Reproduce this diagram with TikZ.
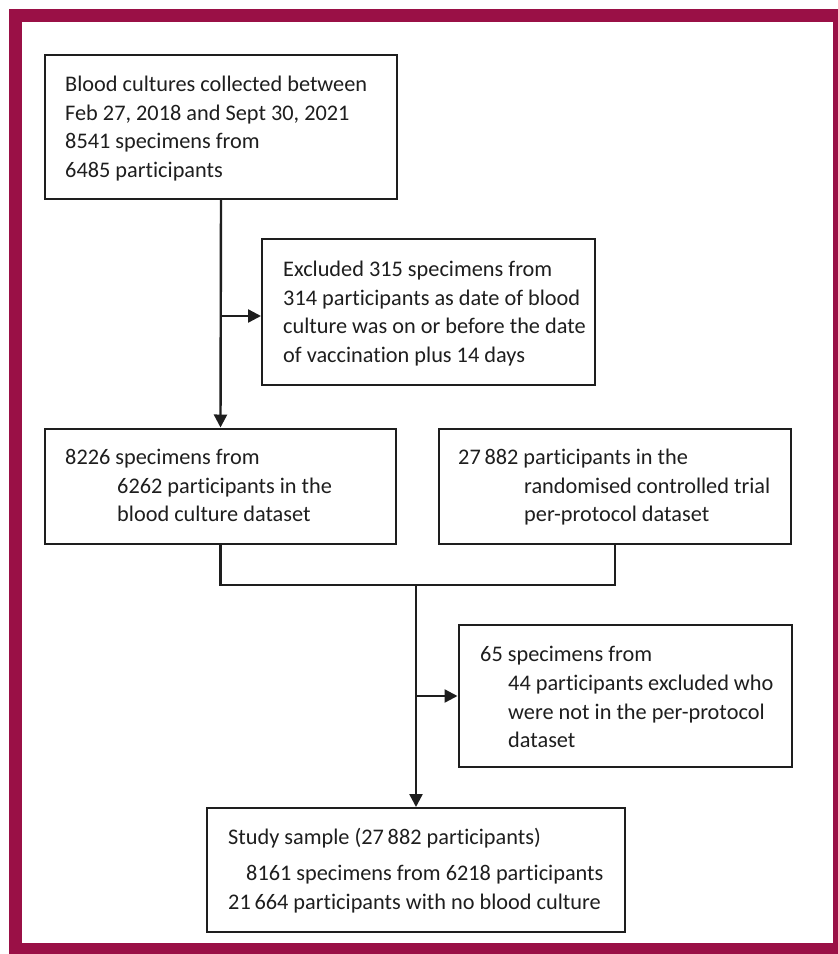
\documentclass[tikz,border=0pt]{standalone}
\usepackage{fontspec}
\setmainfont{Carlito}[Ligatures=NoCommon]
\usetikzlibrary{arrows.meta}
\definecolor{lancet}{RGB}{154,16,70}
\definecolor{ink}{RGB}{30,30,30}
\begin{document}
\begin{tikzpicture}[x=1pt,y=-1pt,
  box/.style={draw=ink,line width=2pt,rectangle,inner sep=0pt},
  txt/.style={anchor=base west,inner sep=0pt,font=\fontsize{22.3}{26}\selectfont,text=ink},
  conn/.style={draw=ink,line width=2.4pt},
  arr/.style={conn,-{Triangle[length=13pt,width=13pt]}}]
\useasboundingbox (0,0) rectangle (838,954);
\clip (0,0) rectangle (838,954);
\fill[white] (0,0) rectangle (838,954);
\draw[lancet,line width=13pt] (15.5,15.5) rectangle (839.5,949.5);
% boxes
\node[box,minimum width=352pt,minimum height=144pt] (b1) at (221,127) {};
\node[box,minimum width=333pt,minimum height=146pt] (b2) at (428.5,312) {};
\node[box,minimum width=351pt,minimum height=115pt] (b3) at (220.5,486) {};
\node[box,minimum width=352pt,minimum height=115pt] (b4) at (615,486) {};
\node[box,minimum width=333pt,minimum height=142pt] (b5) at (625,696) {};
\node[box,minimum width=418pt,minimum height=124pt] (b6) at (416,870) {};
% texts
\node[txt] (t1a) at (65,91) {Blood cultures collected between};
\node[txt] (t1b) at (65,120) {Feb 27, 2018 and Sept 30, 2021};
\node[txt] (t1c) at (65,148) {8541 specimens from};
\node[txt] (t1d) at (65,177) {6485 participants};
\node[txt] (t2a) at (283,276) {Excluded 315 specimens from};
\node[txt] (t2b) at (283,305) {314 participants as date of blood};
\node[txt] (t2c) at (283,333) {culture was on or before the date};
\node[txt] (t2d) at (283,362) {of vaccination plus 14 days};
\node[txt] (t3a) at (65,464) {8226 specimens from};
\node[txt] (t3b) at (117,493) {6262 participants in the};
\node[txt] (t3c) at (117,521) {blood culture dataset};
\node[txt] (t4a) at (458,464) {27\,882 participants in the};
\node[txt] (t4b) at (524,493) {randomised controlled trial};
\node[txt] (t4c) at (524,521) {per-protocol dataset};
\node[txt] (t5a) at (480,661) {65 specimens from};
\node[txt] (t5b) at (508,690) {44 participants excluded who};
\node[txt] (t5c) at (508,719) {were not in the per-protocol};
\node[txt] (t5d) at (508,747) {dataset};
\node[txt] (t6a) at (228,844) {Study sample (27\,882 participants)};
\node[txt] (t6b) at (246,880) {8161 specimens from 6218 participants};
\node[txt] (t6c) at (228,909) {21\,664 participants with no blood culture};
% connectors
\coordinate (c1) at (220,316);
\coordinate (j) at (416,585);
\draw[arr] (b1.south) -- (b3.north);
\draw[arr] (c1) -- (c1 -| b2.west);
\draw[conn] (b3.south) |- (j) -| (b4.south);
\draw[arr] (j) -- (b6.north);
\draw[arr] (j |- b5.west) -- (b5.west);
\end{tikzpicture}
\end{document}
